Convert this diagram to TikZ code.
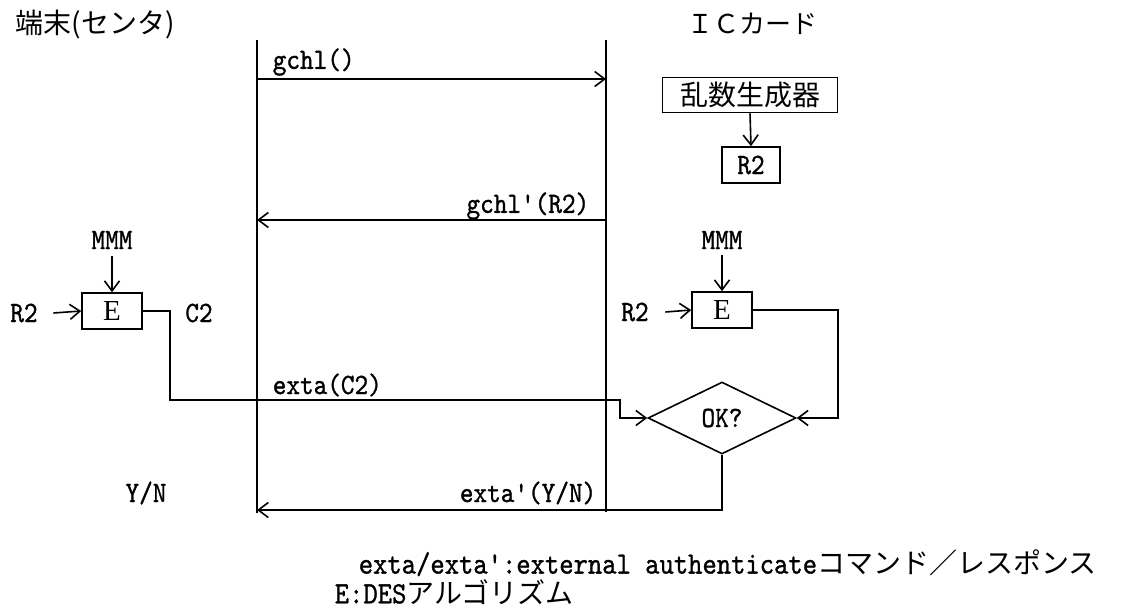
\documentclass[tikz,border=0pt]{standalone}
\usepackage{fontspec}
\setmainfont{Liberation Serif}
\newfontfamily\jpfont{Noto Sans CJK JP}
\newfontfamily\latfont[FakeStretch=0.88,FakeBold=1]{lmmono10-regular.otf}
\usetikzlibrary{arrows.meta,shapes.geometric}
\begin{document}
\begin{tikzpicture}[x=1pt,y=-1pt, line width=1.6pt,
  arr/.style={-{Straight Barb[length=10pt,width=15pt]}},
  lbl/.style={font=\latfont\fontsize{29.5}{31}\selectfont, inner sep=0pt},
  note/.style={font=\latfont\fontsize{31}{33}\selectfont, inner sep=0pt, anchor=west},
  jlbl/.style={font=\jpfont\fontsize{28}{30}\selectfont, inner sep=0pt},
  ebox/.style={draw, minimum width=60pt, minimum height=36pt, inner sep=0pt, font=\rmfamily\fontsize{29}{30}\selectfont},
  tbox/.style={draw, inner sep=0pt, font=\jpfont\fontsize{28}{30}\selectfont},
]
\useasboundingbox (0,0) rectangle (1123,609);

% titles
\node[jlbl] (t1) at (95,24) {端末(センタ)};
\node[jlbl, font=\jpfont\fontsize{26}{28}\selectfont] (t2) at (752,24) {ＩＣカード};

% lifelines
\coordinate (lt) at (257,40);
\coordinate (lb) at (257,513);
\coordinate (rt) at (606,40);
\coordinate (rb) at (606,512);
\draw (lt) -- (lb);
\draw (rt) -- (rb);

% gchl()
\coordinate (m1a) at (257,79);
\coordinate (m1b) at (606,79);
\draw[arr] (m1a) -- (m1b);
\node[lbl, anchor=west] (l1) at (272,62) {gchl()};

% random generator
\node[tbox, minimum width=175pt, minimum height=35pt] (rng) at (750,95) {乱数生成器};
\node[draw, lbl, minimum width=58pt, minimum height=36pt] (r2box) at (751,165) {R2};
\draw[arr] (rng.south) -- (r2box.north);

% gchl'(R2)
\coordinate (m2a) at (606,220);
\coordinate (m2b) at (257,220);
\draw[arr] (m2a) -- (m2b);
\node[lbl, anchor=east] (l2) at (590,206) {gchl'(R2)};

% left E
\node[ebox] (eL) at (112,311) {E};
\node[lbl] (mmmL) at (112,240) {MMM};
\draw[arr] ([yshift=-16pt]mmmL.center) -- (eL.north);
\node[lbl] (r2L) at (24,313) {R2};
\draw[arr] ([xshift=15pt]r2L.east) -- (eL.west);
\node[lbl] (c2L) at (199,313) {C2};

% right E
\node[ebox] (eR) at (722,310) {E};
\node[lbl] (mmmR) at (722,240) {MMM};
\draw[arr] ([yshift=-15pt]mmmR.center) -- (eR.north);
\node[lbl] (r2R) at (635,312) {R2};
\draw[arr] ([xshift=16pt]r2R.east) -- (eR.west);

% diamond
\node[draw, diamond, aspect=2, minimum width=148pt, minimum height=72pt, inner sep=0pt, lbl] (dia) at (722,418) {OK?};

% exta(C2)
\coordinate (c1) at (170,400);
\coordinate (c2) at (620,400);
\draw[arr] (eL.east) -| (c1) -- (c2) |- (dia.west);
\node[lbl, anchor=west] (l3) at (272,385) {exta(C2)};

\coordinate (c3) at (838,418);
\draw[arr] (eR.east) -| (c3) -- (dia.east);

% exta'(Y/N)
\coordinate (c4) at (722,510);
\coordinate (c5) at (257,510);
\draw[arr] (dia.south) -- (c4) -- (c5);
\node[lbl, anchor=east] (l4) at (597,493) {exta'(Y/N)};
\node[lbl] (yn) at (146,493) {Y/N};

% notes
\node[note] (n1) at (358,563) {exta/exta':external authenticate{\jpfont\fontsize{28}{30}\selectfont コマンド／レスポンス}};
\node[note] (n2) at (334,592) {E:DES{\jpfont\fontsize{28}{30}\selectfont アルゴリズム}};
\end{tikzpicture}
\end{document}
